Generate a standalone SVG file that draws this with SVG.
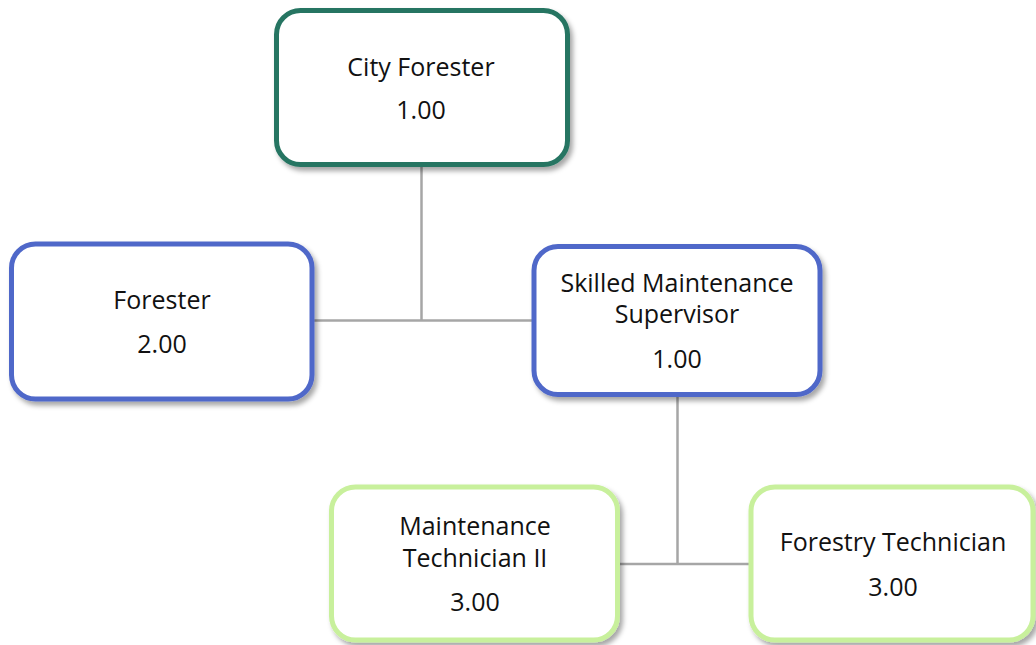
<svg xmlns="http://www.w3.org/2000/svg" width="1036" height="645" viewBox="0 0 1036 645">
<style>
.box{fill:#ffffff;stroke-width:5;filter:url(#sh)}
.teal{stroke:#267562}
.blue{stroke:#5068c9}
.green{stroke:#c8f09c}
.lbl{font-family:"Open Sans","Noto Sans","Liberation Sans",sans-serif;font-size:25px;fill:#111111;text-anchor:middle}
.conn{fill:none;stroke:#a6a6a6;stroke-width:2.5}
</style>
<defs>
<filter id="sh" x="-10%" y="-10%" width="125%" height="130%">
<feDropShadow dx="3" dy="4" stdDeviation="2.5" flood-color="#000000" flood-opacity="0.35"/>
</filter>
</defs>
<rect width="1036" height="645" fill="#ffffff"/>
<g id="connectors">
<path class="conn" d="M421.5 166 V320.5 M313 320.5 H533"/>
<path class="conn" d="M677.5 396 V564 M619 564 H750"/>
</g>
<g id="city-forester">
<rect class="box teal" x="276.5" y="10.5" width="291" height="154" rx="24"/>
<text class="lbl" x="421" y="76">City Forester</text>
<text class="lbl" x="421" y="119">1.00</text>
</g>
<g id="forester">
<rect class="box blue" x="11.5" y="244" width="300.5" height="155" rx="24"/>
<text class="lbl" x="162" y="309">Forester</text>
<text class="lbl" x="162" y="353">2.00</text>
</g>
<g id="supervisor">
<rect class="box blue" x="534" y="246.5" width="286" height="148" rx="24"/>
<text class="lbl" x="677" y="291.5">Skilled Maintenance</text>
<text class="lbl" x="677" y="323">Supervisor</text>
<text class="lbl" x="677" y="368">1.00</text>
</g>
<g id="maintenance-tech">
<rect class="box green" x="331.5" y="487" width="286" height="153" rx="24"/>
<text class="lbl" x="475" y="535">Maintenance</text>
<text class="lbl" x="475" y="567">Technician II</text>
<text class="lbl" x="475" y="611">3.00</text>
</g>
<g id="forestry-tech">
<rect class="box green" x="751" y="487" width="282" height="153" rx="24"/>
<text class="lbl" x="893" y="551">Forestry Technician</text>
<text class="lbl" x="893" y="596">3.00</text>
</g>
</svg>
